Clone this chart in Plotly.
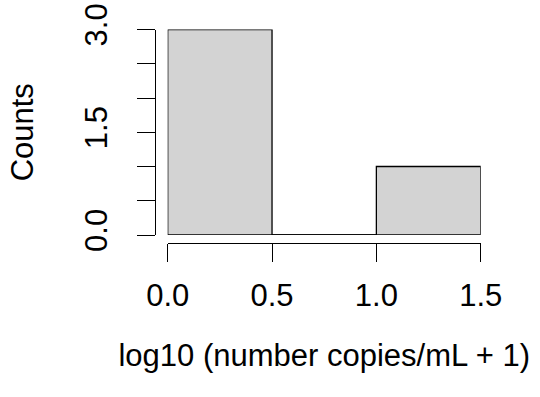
import plotly.graph_objects as go

# Data
bin_starts = [0.0, 0.5, 1.0]
bin_width = 0.5
counts = [3, 0, 1]
x_ticks = [0.0, 0.5, 1.0, 1.5]
x_ticklabels = ["0.0", "0.5", "1.0", "1.5"]
y_ticks = [0.0, 0.5, 1.0, 1.5, 2.0, 2.5, 3.0]
y_ticklabels = ["0.0", "", "", "1.5", "", "", "3.0"]

W, H = 540, 397
FONT = "Liberation Sans, Arial, sans-serif"
FS = 31

centers = [s + bin_width / 2 for s in bin_starts]

fig = go.Figure()
fig.add_trace(go.Bar(
    x=centers, y=counts, width=[bin_width] * len(counts),
    marker=dict(color="#D3D3D3", line=dict(color="black", width=1.3)),
    cliponaxis=False, hoverinfo="skip",
))
# zero-count bins are drawn as flat outlines (as R's hist does)
for s, c in zip(bin_starts, counts):
    if c == 0:
        fig.add_trace(go.Scatter(
            x=[s, s + bin_width], y=[c, c], mode="lines",
            line=dict(color="black", width=1.3),
            cliponaxis=False, hoverinfo="skip",
        ))

# pixel layout (R-style plot region)
x_left_px, x_right_px = 167.7, 480.7
y_bot_px, y_top_px = 235.0, 29.5
yaxis_line_px = 155.2
xaxis_line_px = 243.2

fig.update_layout(
    width=W, height=H,
    margin=dict(l=0, r=0, t=0, b=0),
    paper_bgcolor="white", plot_bgcolor="white",
    showlegend=False,
    font=dict(family=FONT, size=FS, color="black"),
    xaxis=dict(
        domain=[x_left_px / W, x_right_px / W],
        range=[0, 1.5], automargin=False,
        anchor="free", position=1 - xaxis_line_px / H,
        showline=True, linecolor="black", linewidth=1.3,
        ticks="outside", ticklen=18, tickwidth=1.3, tickcolor="black",
        tickvals=x_ticks, ticktext=x_ticklabels,
        showgrid=False, zeroline=False,
        ticklabelstandoff=6,
        title=dict(text="log10 (number copies/mL + 1)", standoff=32,
                   font=dict(family=FONT, size=FS)),
    ),
    yaxis=dict(
        domain=[1 - y_bot_px / H, 1 - y_top_px / H],
        range=[0, 3], automargin=False,
        anchor="free", position=yaxis_line_px / W,
        showline=True, linecolor="black", linewidth=1.3,
        ticks="outside", ticklen=18, tickwidth=1.3, tickcolor="black",
        tickvals=y_ticks, ticktext=y_ticklabels, tickangle=-90,
        showgrid=False, zeroline=False,
        ticklabelstandoff=18,
        title=dict(text="Counts", standoff=34, font=dict(family=FONT, size=FS)),
    ),
)

fig.write_html("out.html")
